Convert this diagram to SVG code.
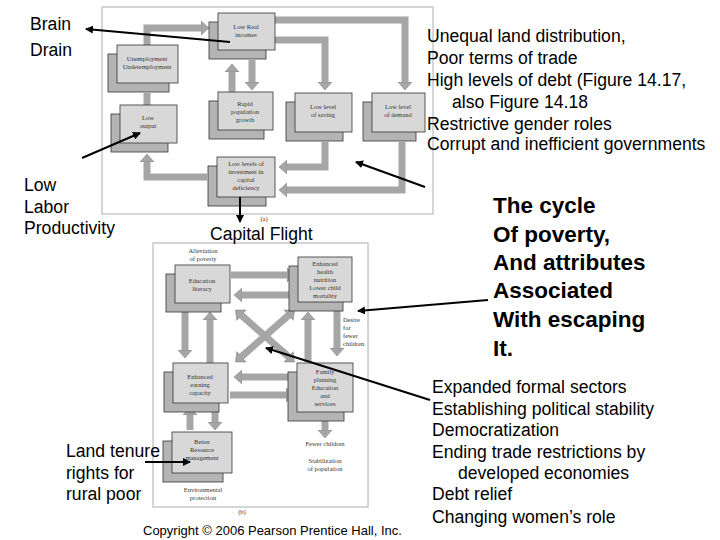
<svg xmlns="http://www.w3.org/2000/svg" width="720" height="540" viewBox="0 0 720 540">
<defs>
<marker id="ah" markerWidth="8" markerHeight="8" refX="7" refY="4" orient="auto" markerUnits="userSpaceOnUse"><path d="M0,0 L8,4 L0,8 z" fill="#000"/></marker>
<marker id="ga" markerWidth="16" markerHeight="16" refX="2" refY="8" orient="auto" markerUnits="userSpaceOnUse"><path d="M0,1 L8,8 L0,15 z" fill="#a6a6a6" stroke="#777" stroke-width="0.5"/></marker>
<marker id="gs" markerWidth="16" markerHeight="16" refX="2" refY="8" orient="auto-start-reverse" markerUnits="userSpaceOnUse"><path d="M0,1 L8,8 L0,15 z" fill="#a6a6a6" stroke="#777" stroke-width="0.5"/></marker>
</defs>
<style>
.t{font-family:"Liberation Sans",Arial,sans-serif;font-size:17.6px;fill:#000}
.b{font-family:"Liberation Sans",Arial,sans-serif;font-size:22.5px;font-weight:bold;fill:#000}
.s{font-family:"Liberation Serif","Times New Roman",serif;font-size:6.5px;fill:#333;text-anchor:middle}
.sl{font-family:"Liberation Serif","Times New Roman",serif;font-size:6.5px;fill:#333}
.frame{fill:#fff;stroke:#c8c8c8;stroke-width:1.5}
.back{fill:#b4b4b4;stroke:#333;stroke-width:0.8}
.front{fill:#d8d8d8;stroke:#333;stroke-width:0.8}
.band{fill:none;stroke:#a6a6a6;stroke-width:7}
.pt{fill:none;stroke:#000;stroke-width:2;marker-end:url(#ah)}
</style>
<rect class="frame" x="102" y="7" width="331" height="207"/>
<rect class="frame" x="153" y="243" width="215" height="264"/>
<g id="connectors">
<path class="band" d="M147,45 V28 H203" marker-end="url(#ga)"/>
<path class="band" d="M147,93 V105"/>
<path class="band" d="M275,20 H405 V84" marker-end="url(#ga)"/>
<path class="band" d="M275,40 H325 V84" marker-end="url(#ga)"/>
<path class="band" d="M232,92 V70" marker-end="url(#ga)"/>
<path class="band" d="M252,60 V84" marker-end="url(#ga)"/>
<path class="band" d="M325,142 V167 H285" marker-end="url(#ga)"/>
<path class="band" d="M402,142 V190 H285" marker-end="url(#ga)"/>
<path class="band" d="M207,177 H147 V160" marker-end="url(#ga)"/>
<path class="band" d="M231,275 H289" marker-end="url(#ga)"/>
<path class="band" d="M297,295 H240" marker-end="url(#ga)"/>
<path class="band" d="M185,312 V352" marker-end="url(#ga)"/>
<path class="band" d="M210,363 V318" marker-end="url(#ga)"/>
<path class="band" d="M230,395 H288" marker-end="url(#ga)"/>
<path class="band" d="M296,377 H240" marker-end="url(#ga)"/>
<path class="band" d="M337,303 V350" marker-end="url(#ga)"/>
<path class="band" d="M308,362 V318" marker-end="url(#ga)"/>
<path class="band" d="M240,314 L290,358" marker-start="url(#gs)" marker-end="url(#ga)"/>
<path class="band" d="M290,314 L240,358" marker-start="url(#gs)" marker-end="url(#ga)"/>
<path class="band" d="M215,412 V424" marker-end="url(#ga)"/>
<path class="band" d="M190,430 V413" marker-end="url(#ga)"/>
<path class="band" d="M325,420 V432" marker-end="url(#ga)"/>
</g>
<g id="n-income"><rect class="back" x="209" y="22" width="57" height="37"/><rect class="front" x="218" y="13" width="57" height="37"/><text class="s" x="246" y="29">Low Real</text><text class="s" x="246" y="37">incomes</text></g>
<g id="n-unemp"><rect class="back" x="108" y="54" width="61" height="38"/><rect class="front" x="117" y="45" width="61" height="38"/><text class="s" x="147" y="61">Unemployment</text><text class="s" x="147" y="69">Underemployment</text></g>
<g id="n-output"><rect class="back" x="111" y="114" width="57" height="38"/><rect class="front" x="120" y="105" width="57" height="38"/><text class="s" x="148" y="120">Low</text><text class="s" x="148" y="128">output</text></g>
<g id="n-pop"><rect class="back" x="209" y="101" width="55" height="38"/><rect class="front" x="218" y="92" width="55" height="38"/><text class="s" x="245" y="106">Rapid</text><text class="s" x="245" y="114">population</text><text class="s" x="245" y="122">growth</text></g>
<g id="n-saving"><rect class="back" x="286" y="102" width="57" height="39"/><rect class="front" x="295" y="93" width="57" height="39"/><text class="s" x="323" y="109">Low level</text><text class="s" x="323" y="117">of saving</text></g>
<g id="n-demand"><rect class="back" x="363" y="102" width="53" height="39"/><rect class="front" x="372" y="93" width="53" height="39"/><text class="s" x="398" y="109">Low level</text><text class="s" x="398" y="117">of demand</text></g>
<g id="n-invest"><rect class="back" x="208" y="166" width="58" height="40"/><rect class="front" x="217" y="157" width="58" height="40"/><text class="s" x="246" y="166">Low levels of</text><text class="s" x="246" y="174">investment in</text><text class="s" x="246" y="182">capital</text><text class="s" x="246" y="190">deficiency</text></g>
<text class="s" x="264" y="221">(a)</text>
<g id="n-edu"><rect class="back" x="166" y="274" width="55" height="38"/><rect class="front" x="175" y="265" width="55" height="38"/><text class="s" x="202" y="283">Education</text><text class="s" x="202" y="291">literacy</text><text class="s" x="203" y="253">Alleviation</text><text class="s" x="203" y="261">of poverty</text></g>
<g id="n-health"><rect class="back" x="289" y="266" width="54" height="45"/><rect class="front" x="298" y="257" width="54" height="45"/><text class="s" x="325" y="266">Enhanced</text><text class="s" x="325" y="274">health</text><text class="s" x="325" y="282">nutrition</text><text class="s" x="325" y="290">Lower child</text><text class="s" x="325" y="298">mortality</text></g>
<text class="sl" x="343" y="322">Desire</text><text class="sl" x="343" y="330">for</text><text class="sl" x="343" y="338">fewer</text><text class="sl" x="343" y="346">children</text>
<g id="n-earn"><rect class="back" x="164" y="372" width="55" height="40"/><rect class="front" x="173" y="363" width="55" height="40"/><text class="s" x="200" y="379">Enhanced</text><text class="s" x="200" y="387">earning</text><text class="s" x="200" y="395">capacity</text></g>
<g id="n-family"><rect class="back" x="288" y="372" width="56" height="49"/><rect class="front" x="297" y="363" width="56" height="49"/><text class="s" x="325" y="374">Family</text><text class="s" x="325" y="382">planning</text><text class="s" x="325" y="390">Education</text><text class="s" x="325" y="398">and</text><text class="s" x="325" y="406">services</text></g>
<text class="s" x="325" y="446">Fewer children</text><text class="s" x="325" y="463">Stabilization</text><text class="s" x="325" y="471">of population</text>
<g id="n-resource"><rect class="back" x="163" y="441" width="60" height="41"/><rect class="front" x="172" y="432" width="60" height="41"/><text class="s" x="202" y="444">Better</text><text class="s" x="202" y="452">Resource</text><text class="s" x="202" y="460">management</text><text class="s" x="203" y="492">Environmental</text><text class="s" x="203" y="500">protection</text></g>
<text class="s" x="242" y="514">(b)</text>
<g id="pointers">
<line class="pt" x1="230" y1="42" x2="86" y2="29"/>
<line class="pt" x1="82" y1="158" x2="140" y2="133"/>
<line class="pt" x1="240" y1="197" x2="240" y2="222"/>
<line class="pt" x1="425" y1="187" x2="356" y2="162"/>
<line class="pt" x1="488" y1="300" x2="358" y2="311"/>
<line class="pt" x1="430" y1="400" x2="266" y2="348"/>
<line class="pt" x1="145" y1="462" x2="190" y2="462"/>
</g>
<text class="t" x="30" y="30">Brain</text><text class="t" x="30" y="56">Drain</text>
<text class="t" x="24" y="191">Low</text><text class="t" x="24" y="213">Labor</text><text class="t" x="24" y="234">Productivity</text>
<text class="t" x="210" y="240">Capital Flight</text>
<text class="t" x="427" y="42">Unequal land distribution,</text>
<text class="t" x="427" y="64">Poor terms of trade</text>
<text class="t" x="427" y="86">High levels of debt (Figure 14.17,</text>
<text class="t" x="452" y="108">also Figure 14.18</text>
<text class="t" x="427" y="130">Restrictive gender roles</text>
<text class="t" x="427" y="150">Corrupt and inefficient governments</text>
<text class="b" x="493" y="213">The cycle</text><text class="b" x="493" y="242">Of poverty,</text><text class="b" x="493" y="270">And attributes</text><text class="b" x="493" y="298">Associated</text><text class="b" x="493" y="327">With escaping</text><text class="b" x="493" y="356">It.</text>
<text class="t" x="432" y="393">Expanded formal sectors</text>
<text class="t" x="432" y="415">Establishing political stability</text>
<text class="t" x="432" y="436">Democratization</text>
<text class="t" x="432" y="458">Ending trade restrictions by</text>
<text class="t" x="458" y="479">developed economies</text>
<text class="t" x="432" y="500">Debt relief</text>
<text class="t" x="432" y="523">Changing women’s role</text>
<text class="t" x="66" y="457">Land tenure</text><text class="t" x="66" y="479">rights for</text><text class="t" x="66" y="500">rural poor</text>
<text class="t" x="143" y="535" style="font-size:13px">Copyright © 2006 Pearson Prentice Hall, Inc.</text>
</svg>
